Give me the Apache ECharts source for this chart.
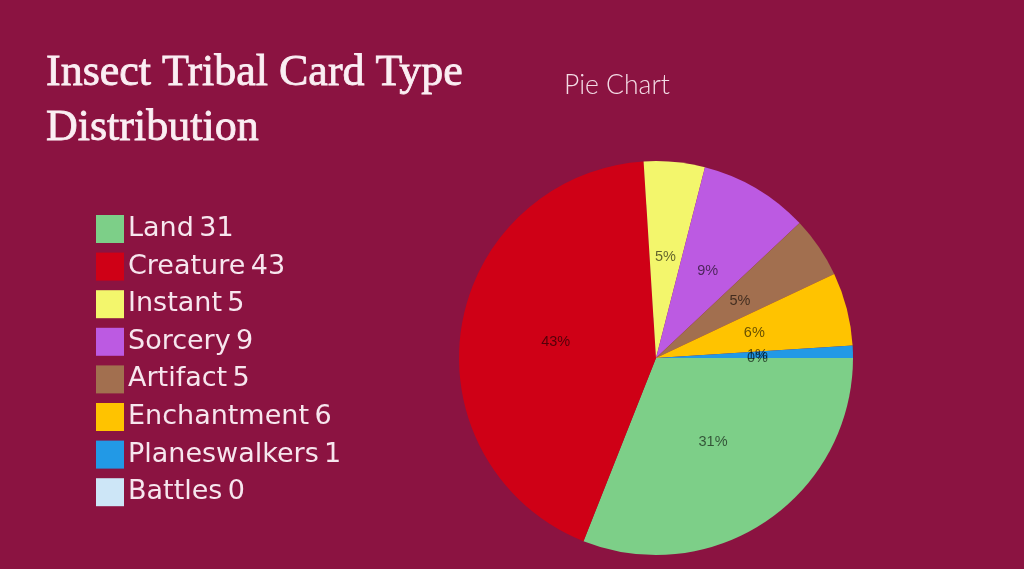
<!DOCTYPE html>
<html><head><meta charset="utf-8">
<script src="https://cdn.jsdelivr.net/npm/echarts@6/dist/echarts.min.js"></script>
<style>html,body{margin:0;padding:0;background:#8b1341;}#c{width:1024px;height:569px;}</style>
</head><body><div id="c"></div>
<script>
const categories = ['Land','Creature','Instant','Sorcery','Artifact','Enchantment','Planeswalkers','Battles'];
const values = [31,43,5,9,5,6,1,0];
const colors = ['#7dcf88','#cf0016','#f3f66c','#bc5ae2','#a26f4f','#ffc300','#2299e6','#cde6f7'];

const chart = echarts.init(document.getElementById('c'));
chart.setOption({
  backgroundColor:'#8b1341',
  color: colors,
  title:[
    {text:'Insect Tribal Card Type\nDistribution', left:41, top:41,
     textStyle:{fontFamily:'Liberation Serif', fontSize:44, fontWeight:'normal', color:'#fbeef3', lineHeight:55,
       textBorderColor:'#fbeef3', textBorderWidth:0.8}},
    {text:'Pie Chart', left:559, top:67,
     textStyle:{fontFamily:'Lato', fontSize:26.5, fontWeight:300, color:'#f3dbe5'}}
  ],
  legend:{
    orient:'vertical', left:91, top:210, icon:'rect',
    itemWidth:28, itemHeight:28, itemGap:9.6,
    selectedMode:false,
    formatter: function(n){ return n + '\u2009' + values[categories.indexOf(n)]; },
    textStyle:{fontFamily:'DejaVu Sans', fontSize:27, color:'#f7e6ee', lineHeight:28, padding:[0,0,0,-1]},
    data: categories
  },
  series:[{
    type:'pie', center:[656,358], radius:197, startAngle:0, clockwise:true,
    avoidLabelOverlap:false, stillShowZeroSum:true, minAngle:0.01, minShowLabelAngle:0,
    labelLayout:{hideOverlap:false},
    label:{show:true, position:'inner', formatter:'{d}%', fontFamily:'Liberation Sans', fontSize:14.5, color:'rgba(0,0,0,0.6)'},
    labelLine:{show:false},
    emphasis:{disabled:true},
    itemStyle:{borderWidth:0},
    data: categories.map((c,i)=>({name:c, value:values[i]}))
  }]
});
</script></body></html>
